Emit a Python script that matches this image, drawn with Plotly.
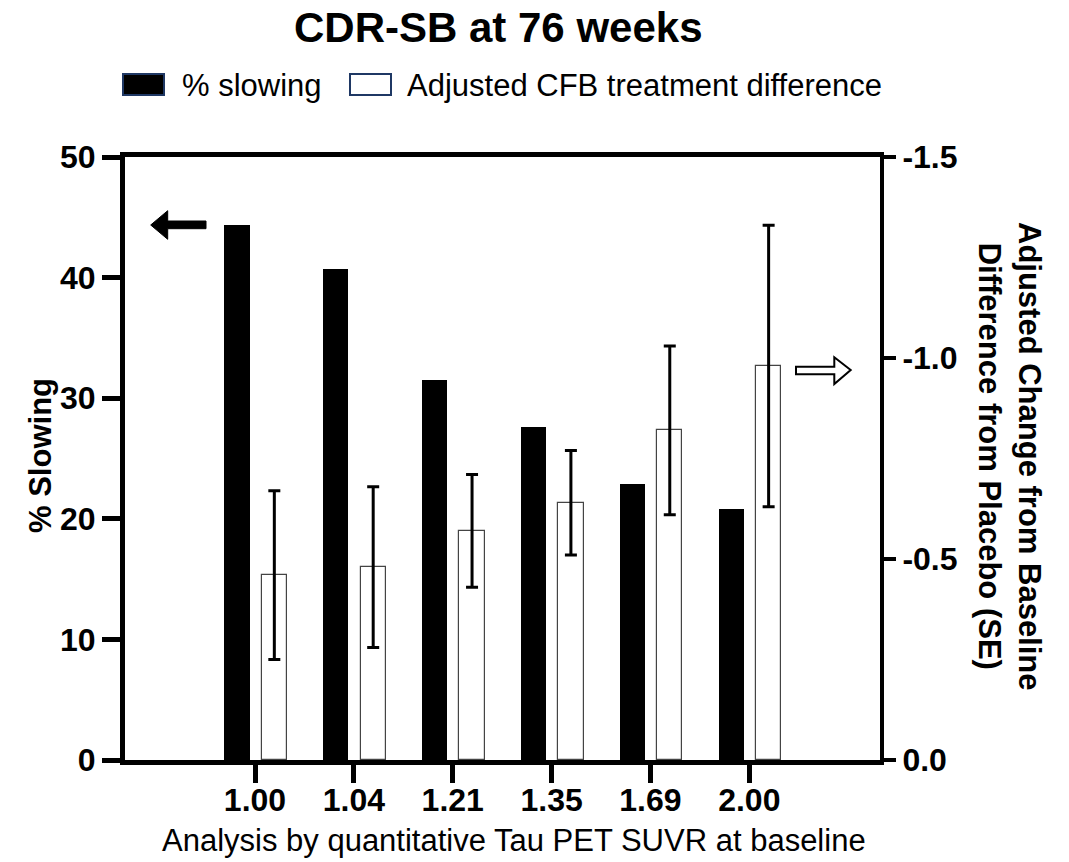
import plotly.graph_objects as go

# Baseline tau PET SUVR groups
tau_suvr = ["1.00", "1.04", "1.21", "1.35", "1.69", "2.00"]
# % slowing of CDR-SB decline (left axis)
pct_slowing = [44.4, 40.7, 31.5, 27.6, 22.9, 20.8]
# Adjusted change-from-baseline difference vs placebo (right axis) and its SE
cfb_diff = [-0.46, -0.48, -0.57, -0.64, -0.82, -0.98]
cfb_se = [0.21, 0.20, 0.14, 0.13, 0.21, 0.35]

left_ticks = [0, 10, 20, 30, 40, 50]
right_ticks = [0.0, -0.5, -1.0, -1.5]

FONT = "Liberation Sans, Arial, sans-serif"
W, H = 1069, 862
ML, MR, MT, MB = 125, 189, 157, 102

fig = go.Figure()

fig.add_trace(go.Bar(
    x=tau_suvr, y=pct_slowing, name="% slowing",
    marker=dict(color="black", line=dict(width=0)),
    width=0.255, offset=-0.31, showlegend=False,
))

fig.add_trace(go.Bar(
    x=tau_suvr, y=cfb_diff, name="Adjusted CFB treatment difference",
    marker=dict(color="white", line=dict(color="#444444", width=1.2)),
    width=0.255, offset=0.068, yaxis="y2", showlegend=False,
    error_y=dict(type="data", array=cfb_se, visible=True,
                 color="black", thickness=3, width=6),
))

tick_font = dict(family=FONT, size=32, color="black", weight="bold")

fig.update_layout(
    width=W, height=H, autosize=False,
    margin=dict(l=ML, r=MR, t=MT, b=MB),
    paper_bgcolor="white", plot_bgcolor="white",
    bargap=0, barmode="overlay",
    xaxis=dict(
        type="category", range=[-1.315, 6.322],
        showline=True, linewidth=5, linecolor="black", mirror=True,
        ticks="outside", ticklen=18, tickwidth=5, tickcolor="black",
        ticklabelstandoff=-10,
        tickfont=tick_font, showgrid=False, zeroline=False,
    ),
    yaxis=dict(
        range=[0, 50], tickvals=left_ticks,
        showline=True, linewidth=5, linecolor="black",
        ticks="outside", ticklen=18, tickwidth=5, tickcolor="black",
        tickfont=tick_font, showgrid=False, zeroline=False,
    ),
    yaxis2=dict(
        overlaying="y", side="right", range=[0, -1.5],
        tickvals=right_ticks, ticktext=[f"{v:.1f}" for v in right_ticks],
        showline=True, linewidth=4, linecolor="black",
        ticks="outside", ticklen=12, tickwidth=4, tickcolor="black",
        tickfont=tick_font, showgrid=False, zeroline=False,
    ),
)

pw, ph = W - ML - MR, H - MT - MB


def px(x):
    return (x - ML) / pw


def py(y):
    return (H - MB - y) / ph


ann = []
# Title
ann.append(dict(text="<b>CDR-SB at 76 weeks</b>", x=px(498), y=py(27),
                xref="paper", yref="paper", showarrow=False,
                xanchor="center", yanchor="middle",
                font=dict(family=FONT, size=42, color="black")))
# Legend entries
legend_items = [("% slowing", "black", 123, 164, 180),
                ("Adjusted CFB treatment difference", "white", 350, 391, 405)]
shapes = []
for label, fill, x0, x1, tx in legend_items:
    shapes.append(dict(type="rect", xref="paper", yref="paper",
                       x0=px(x0), x1=px(x1), y0=py(95), y1=py(74),
                       fillcolor=fill, line=dict(color="#1f3864", width=2)))
    ann.append(dict(text=label, x=px(tx), y=py(85), xref="paper", yref="paper",
                    showarrow=False, xanchor="left", yanchor="middle",
                    font=dict(family=FONT, size=31, color="black")))
# Axis titles
ann.append(dict(text="<b>% Slowing</b>", x=px(40), y=py(456),
                xref="paper", yref="paper", showarrow=False, textangle=-90,
                xanchor="center", yanchor="middle",
                font=dict(family=FONT, size=31, color="black")))
ann.append(dict(text="<b>Adjusted Change from Baseline<br>Difference from Placebo (SE)</b>",
                x=px(1010), y=py(456), xref="paper", yref="paper",
                showarrow=False, textangle=90, xanchor="center", yanchor="middle",
                font=dict(family=FONT, size=31, color="black")))
ann.append(dict(text="Analysis by quantitative Tau PET SUVR at baseline",
                x=px(514), y=py(840), xref="paper", yref="paper",
                showarrow=False, xanchor="center", yanchor="middle",
                font=dict(family=FONT, size=31, color="black")))

# Arrows pointing to the axis each series belongs to
left_arrow = (f"M {px(150.7)},{py(225)} L {px(167.7)},{py(210.7)} L {px(167.7)},{py(221)} "
              f"L {px(206)},{py(221)} L {px(206)},{py(228.7)} L {px(167.7)},{py(228.7)} "
              f"L {px(167.7)},{py(239.3)} Z")
shapes.append(dict(type="path", xref="paper", yref="paper", path=left_arrow,
                   fillcolor="black", line=dict(color="black", width=1)))
right_arrow = (f"M {px(850.7)},{py(370)} L {px(834.3)},{py(357.3)} L {px(834.3)},{py(366.7)} "
               f"L {px(796)},{py(366.7)} L {px(796)},{py(374.3)} L {px(834.3)},{py(374.3)} "
               f"L {px(834.3)},{py(384)} Z")
shapes.append(dict(type="path", xref="paper", yref="paper", path=right_arrow,
                   fillcolor="white", line=dict(color="black", width=2)))

fig.update_layout(annotations=ann, shapes=shapes)

fig.write_html("out.html")
